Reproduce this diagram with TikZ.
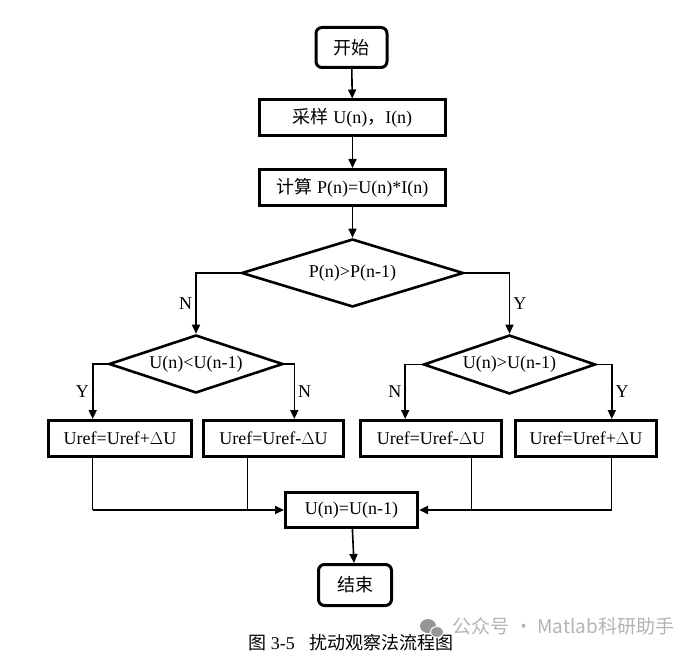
\documentclass[tikz,border=0pt]{standalone}
\usepackage{fontspec}
\setmainfont{Liberation Serif}
\newfontfamily\cjk{Noto Sans CJK SC}
\definecolor{mygray}{RGB}{180,180,180}
\definecolor{mydarkgray}{RGB}{150,150,150}
\usetikzlibrary{shapes.geometric,arrows.meta,calc,positioning}
\tikzstyle{term}=[draw,rounded corners=6pt,line width=3pt,minimum width=71pt,minimum height=40pt,inner sep=0pt]
\tikzstyle{proc}=[draw,line width=3pt,minimum height=36pt,inner sep=0pt]
\tikzstyle{decision}=[draw,diamond,aspect=3,line width=2.6pt,inner sep=0pt]
\tikzstyle{lbl}=[inner sep=3pt]
\newcommand{\zh}[1]{{\cjk #1}}

\begin{document}
\begin{tikzpicture}[x=1pt,y=-1pt,line width=1.6pt,>={Triangle[length=9pt,width=8pt]},font=\fontsize{18}{20}\selectfont]
\useasboundingbox (0,0) rectangle (695,660);
\draw (351.5, 47.5) node [term] (s) {\zh{开始}};
\draw (352.5, 118) node [proc, minimum width=186pt] (p1) {\zh{采样} U(n)\zh{，}I(n)};
\draw (352.5, 187.5) node [proc, minimum width=186pt] (p2) {\zh{计算} P(n)=U(n)*I(n)};
\draw (352.5, 273) node [decision, minimum width=222pt, minimum height=68pt] (d0) {P(n)>P(n-1)};
\draw (196, 364) node [decision, minimum width=174pt, minimum height=58pt] (d1) {U(n)<U(n-1)};
\draw (509.5, 364.5) node [decision, minimum width=172pt, minimum height=59pt] (d2) {U(n)>U(n-1)};
\draw (120, 438.5) node [proc, minimum width=143pt] (b1) {Uref=Uref+$\Delta$U};
\draw (273.5, 438.5) node [proc, minimum width=140pt] (b2) {Uref=Uref-$\Delta$U};
\draw (431, 438.5) node [proc, minimum width=141pt] (b3) {Uref=Uref-$\Delta$U};
\draw (586, 438.5) node [proc, minimum width=141pt] (b4) {Uref=Uref+$\Delta$U};
\draw (351.5, 510) node [proc, minimum width=132pt, minimum height=35pt] (u) {U(n)=U(n-1)};
\draw (355, 585) node [term, minimum width=73pt, minimum height=41pt] (e) {\zh{结束}};
\draw[->] (s) -- (p1);
\draw[->] (p1) -- (p2);
\draw[->] (p2) -- (d0);
\draw[->] (d0.west) -| node [lbl, pos=0.75, left] (l1) {N} (d1.north);
\draw[->] (d0.east) -| node [lbl, pos=0.75, right] (l2) {Y} (d2.north);
\draw[->] (d1.west) -- ++(-15,0) coordinate (c1) -- node [lbl, left] (l3) {Y} (c1 |- b1.north);
\draw[->] (d1.east) -- ++(10,0) coordinate (c2) -- node [lbl, right] (l4) {N} (c2 |- b2.north);
\draw[->] (d2.west) -- ++(-17,0) coordinate (c3) -- node [lbl, left] (l5) {N} (c3 |- b3.north);
\draw[->] (d2.east) -- ++(15,0) coordinate (c4) -- node [lbl, right] (l6) {Y} (c4 |- b4.north);
% back to the merge box
\draw[line width=0.8pt] (c1 |- b1.south) -- (c1 |- u.west);
\draw[line width=0.8pt] ([xshift=-26.5pt]b2.south) -- ([xshift=-26.5pt]b2.south |- u.west);
\draw[line width=0.8pt] ([xshift=40pt]b3.south) -- ([xshift=40pt]b3.south |- u.east);
\draw[line width=1pt] (c4 |- b4.south) -- (c4 |- u.east);
\draw[->] (c1 |- u.west) -- (u.west);
\draw[->, line width=2.4pt] (c4 |- u.east) -- (u.east);
\draw[->] (u) -- (e);
% caption and watermark
\draw (351, 643) node (cap) {\zh{图} 3-5\hspace{15pt}\zh{扰动观察法流程图}};
\fill[mydarkgray] (428, 626) ellipse (8pt and 7pt);
\fill[mydarkgray, draw=white, line width=1pt] (437, 632) ellipse (6.5pt and 5.5pt);
\draw (452, 626) node [anchor=west, inner sep=0pt, text=mygray, font=\fontsize{19}{21}\cjk] (wm) {公众号 · Matlab科研助手};
\end{tikzpicture}
\end{document}
